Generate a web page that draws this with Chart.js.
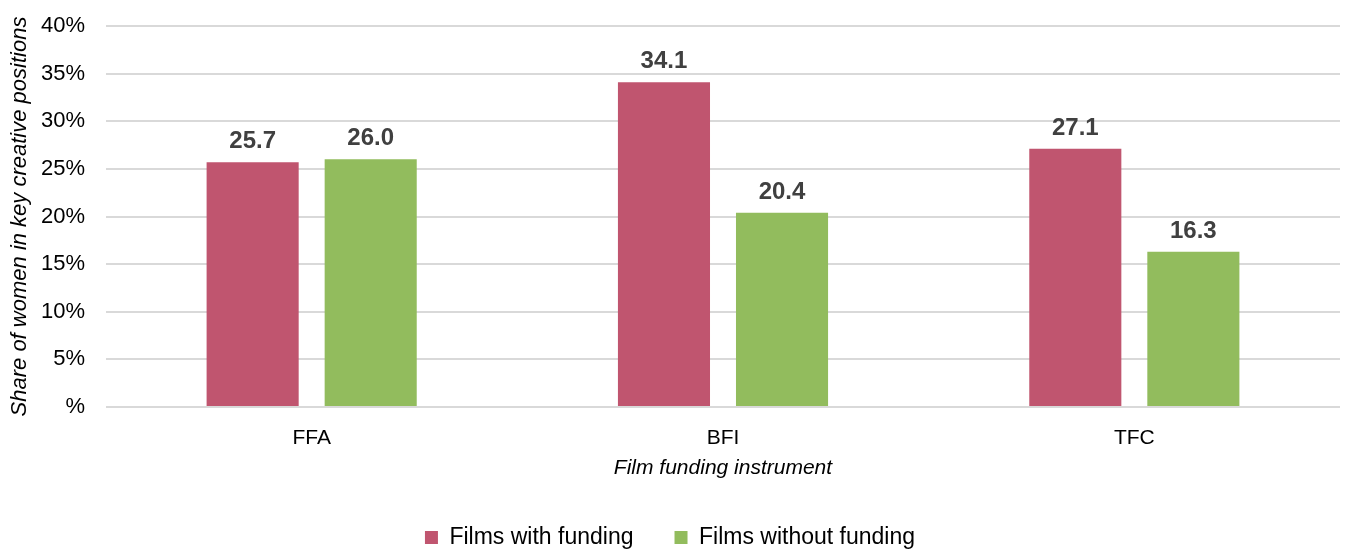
<!DOCTYPE html>
<html>
<head>
<meta charset="utf-8">
<script src="https://cdn.jsdelivr.net/npm/chart.js@4/dist/chart.umd.min.js"></script>
<style>
  html, body { margin: 0; padding: 0; background: #fff; }
  #wrap { width: 1348px; height: 550px; }
</style>
</head>
<body>
<div id="wrap"><canvas id="myChart"></canvas></div>
<script>
const categories = ['FFA', 'BFI', 'TFC'];
const withFunding = [25.7, 34.1, 27.1];
const withoutFunding = [26.0, 20.4, 16.3];
const seriesNames = ['Films with funding', 'Films without funding'];

// draws the bold numbers above each bar
const barValues = {
  id: 'barValues',
  afterDatasetsDraw(chart) {
    const ctx = chart.ctx;
    ctx.save();
    ctx.font = 'bold 24px "Liberation Sans", Arial, sans-serif';
    ctx.fillStyle = '#404040';
    ctx.textAlign = 'center';
    ctx.textBaseline = 'alphabetic';
    chart.data.datasets.forEach((ds, i) => {
      chart.getDatasetMeta(i).data.forEach((bar, j) => {
        ctx.fillText(ds.data[j].toFixed(1), bar.x, bar.y - 14);
      });
    });
    ctx.restore();
  }
};

const font = '"Liberation Sans", Arial, sans-serif';

let ctx = document.getElementById('myChart');
let myChart = new Chart(ctx, {
  type: 'bar',
  data: {
    labels: categories,
    datasets: [{
      label: seriesNames[0],
      data: withFunding,
      backgroundColor: '#C0556F',
      categoryPercentage: 0.574,
      barPercentage: 0.78
    }, {
      label: seriesNames[1],
      data: withoutFunding,
      backgroundColor: '#92BC5D',
      categoryPercentage: 0.574,
      barPercentage: 0.78
    }]
  },
  options: {
    responsive: true,
    maintainAspectRatio: false,
    animation: false,
    layout: { padding: { top: 0, right: 8, left: 0, bottom: 0 } },
    plugins: {
      tooltip: { enabled: false },
      legend: {
        position: 'bottom',
        maxHeight: 65,
        labels: {
          boxWidth: 13,
          boxHeight: 13,
          padding: 41,
          color: '#000',
          font: { family: font, size: 23 }
        }
      }
    },
    scales: {
      x: {
        afterFit: s => { s.height = 78; },
        grid: { display: false, drawTicks: false },
        border: { display: false },
        ticks: {
          color: '#000',
          padding: 21,
          font: { family: font, size: 21, lineHeight: 1 }
        },
        title: {
          display: true,
          text: 'Film funding instrument',
          color: '#000',
          padding: { top: 0, bottom: 6 },
          font: { family: font, size: 21, style: 'italic', lineHeight: 1 }
        }
      },
      y: {
        afterFit: s => { s.width = 106; s.paddingTop = 26; },
        min: 0,
        max: 40,
        ticks: {
          stepSize: 5,
          color: '#000',
          padding: 21,
          font: { family: font, size: 22 },
          callback: v => v === 0 ? '%' : v + '%'
        },
        grid: { color: '#D9D9D9', lineWidth: 2, drawTicks: false },
        border: { display: false },
        title: {
          display: true,
          text: 'Share of women in key creative positions',
          color: '#000',
          padding: { top: 7, bottom: 0 },
          font: { family: font, size: 22, style: 'italic' }
        }
      }
    }
  },
  plugins: [barValues]
});
</script>
</body>
</html>
